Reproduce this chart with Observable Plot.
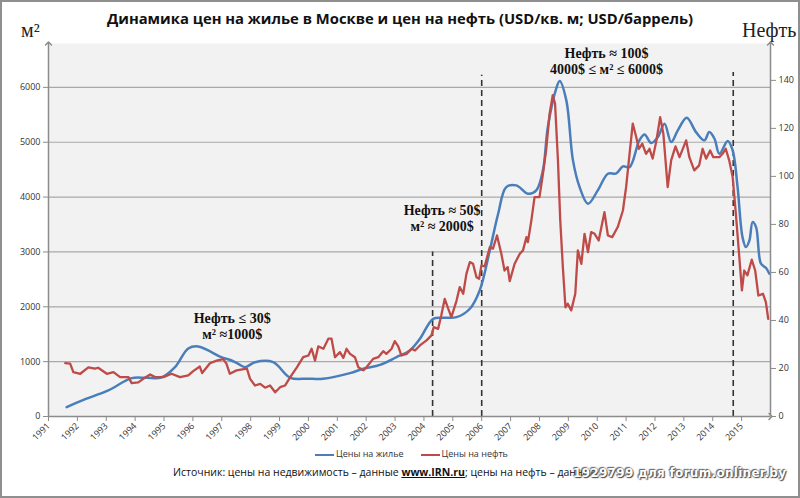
<!DOCTYPE html>
<html>
<head>
<meta charset="utf-8">
<script src="https://cdn.jsdelivr.net/npm/d3@7"></script>
<script src="https://cdn.jsdelivr.net/npm/@observablehq/plot@0.6"></script>
<style>
  html, body { margin: 0; padding: 0; background: #fff; }
  #wrap { position: relative; width: 800px; height: 498px; overflow: hidden; background: #fff; }
  #frame { position: absolute; left: 0; top: 0; width: 800px; height: 498px; box-sizing: border-box; border: 2px solid #8f8f8f; pointer-events: none; }
  #title { position: absolute; left: 0; top: 0; width: 800px; height: 36px; line-height: 36px; text-align: center;
           font-family: "Open Sans", sans-serif; font-weight: 700; font-size: 14.8px; color: #111; white-space: nowrap; }
  .axt { position: absolute; font-family: "Liberation Serif", serif; font-size: 20px; line-height: 24px; color: #222; white-space: nowrap; }
  #chart { position: absolute; left: 0; top: 40px; }
  #legend { position: absolute; left: 315px; top: 447px; height: 14px; line-height: 14px; font-family: "Open Sans", sans-serif; font-size: 9px; color: #333; white-space: nowrap; }
  #legend .sw { display: inline-block; width: 19px; height: 0; border-top: 2.5px solid; vertical-align: middle; margin-right: 2px; }
  #legend .it { display: inline-block; margin-right: 17px; }
  #source { position: absolute; left: 173px; top: 464px; line-height: 17px; font-family: "Open Sans", sans-serif; font-size: 10.5px; color: #111; white-space: nowrap; }
  #source b { text-decoration: underline; }
  #wm { position: absolute; left: 573px; top: 463px; line-height: 20px; font-family: "DejaVu Sans", sans-serif; font-weight: 700; font-size: 12px; color: #fff; white-space: nowrap;
        text-shadow: 0 0 2px #555, 1px 1px 1px #444, -1px -1px 1px #666; letter-spacing: 0.3px; }
</style>
</head>
<body>
<div id="wrap">
  <div id="title">Динамика цен на жилье в Москве и цен на нефть (USD/кв. м; USD/баррель)</div>
  <div class="axt" style="left:21px; top:18px;">м²</div>
  <div class="axt" style="left:742px; top:18px;">Нефть</div>
  <div id="chart"></div>
  <div id="legend"><span class="it"><span class="sw" style="border-color:#4a7ebb"></span>Цены на жилье</span><span class="it"><span class="sw" style="border-color:#be4b48"></span>Цены на нефть</span></div>
  <div id="source">Источник: цены на недвижимость – данные <b>www.IRN.ru</b>; цены на нефть – данные</div>
  <div id="wm">1929799 для forum.onliner.by</div>
  <div id="frame"></div>
</div>
<script>
// ---- Data ----
const xTickYears = [1991,1992,1993,1994,1995,1996,1997,1998,1999,2000,2001,2002,2003,2004,2005,2006,2007,2008,2009,2010,2011,2012,2013,2014,2015];
const leftTicks = [0,1000,2000,3000,4000,5000,6000];
const oilTicks = [0,20,40,60,80,100,120,140];

// Housing price, USD per sq. m (blue)
const houseYears = [1991.63,1992.15,1993.07,1993.88,1994.4,1994.9,1995.38,1995.84,1996.18,1996.53,1996.98,1997.3,1997.57,1997.81,1998.15,1998.78,1999.37,2000.0,2000.5,2001.44,2001.9,2002.48,2003.05,2003.51,2003.86,2004.32,2004.7,2005.13,2005.59,2005.93,2006.28,2006.57,2006.85,2007.2,2007.6,2007.89,2008.12,2008.29,2008.58,2008.7,2008.93,2009.16,2009.39,2009.68,2010.02,2010.37,2010.66,2010.89,2011.12,2011.46,2011.64,2011.87,2012.1,2012.33,2012.56,2012.79,2013.1,2013.42,2013.71,2013.88,2014.06,2014.23,2014.52,2014.69,2014.86,2015.03,2015.15,2015.27,2015.38,2015.5,2015.67,2015.84,2015.96];
const houseValues = [170,290,475,700,705,710,900,1240,1277,1204,1082,1030,960,900,990,990,705,690,687,790,870,942,1082,1204,1417,1781,1800,1811,1964,2298,3028,3697,4182,4213,4062,4122,4487,5276,5977,6115,5763,4669,4182,3879,4122,4426,4432,4560,4547,5034,5143,4985,5094,5338,5003,5216,5447,5185,5034,5185,5064,4791,5022,4851,4182,3270,3088,3210,3544,3453,2785,2712,2603];

// Oil price, USD per barrel (red)
const oilYears = [1991.58,1991.75,1991.86,1992.1,1992.38,1992.61,1992.72,1993.02,1993.25,1993.48,1993.77,1993.88,1994.11,1994.28,1994.52,1994.69,1994.98,1995.26,1995.55,1995.84,1996.01,1996.24,1996.32,1996.59,1996.82,1997.05,1997.16,1997.28,1997.51,1997.87,1997.98,1998.15,1998.33,1998.5,1998.67,1998.85,1999.02,1999.19,1999.37,1999.6,1999.82,2000.0,2000.11,2000.23,2000.34,2000.52,2000.69,2000.8,2000.92,2001.09,2001.21,2001.32,2001.44,2001.61,2001.73,2001.9,2002.01,2002.24,2002.42,2002.59,2002.7,2002.88,2002.99,2003.11,2003.22,2003.4,2003.57,2003.69,2003.86,2004.09,2004.26,2004.34,2004.49,2004.6,2004.72,2004.84,2004.95,2005.13,2005.24,2005.36,2005.47,2005.59,2005.7,2005.82,2005.91,2005.99,2006.1,2006.28,2006.39,2006.53,2006.68,2006.79,2006.9,2006.97,2007.14,2007.32,2007.43,2007.55,2007.6,2007.72,2007.83,2008.0,2008.12,2008.23,2008.35,2008.46,2008.54,2008.64,2008.72,2008.81,2008.9,2008.98,2009.1,2009.24,2009.33,2009.45,2009.56,2009.68,2009.79,2009.91,2010.05,2010.25,2010.37,2010.52,2010.71,2010.89,2011.0,2011.12,2011.23,2011.35,2011.44,2011.56,2011.69,2011.81,2011.92,2012.04,2012.18,2012.29,2012.44,2012.56,2012.71,2012.85,2013.08,2013.19,2013.36,2013.53,2013.65,2013.77,2013.91,2014.02,2014.23,2014.34,2014.45,2014.57,2014.69,2014.8,2014.92,2015.01,2015.09,2015.2,2015.35,2015.47,2015.58,2015.74,2015.84,2015.92];
const oilValues = [22.2,22.0,18.5,17.8,20.5,19.9,20.3,17.8,18.5,16.4,16.4,13.9,14.2,15.7,17.5,16.4,16.4,17.8,16.4,17.1,18.9,20.8,18.1,22.2,23.3,23.9,22.0,17.8,19.2,19.9,15.7,12.9,13.6,12.0,12.9,10.1,12.2,12.9,16.4,20.5,24.7,25.4,28.2,23.3,29.2,28.2,32.4,32.4,24.7,26.8,24.4,28.2,26.1,24.7,20.5,19.2,20.5,24.0,24.7,27.2,26.1,28.2,31.4,29.2,25.4,26.1,28.2,27.5,29.6,31.7,33.8,37.2,36.5,42.1,49.0,44.9,41.4,48.3,53.9,51.1,59.4,64.3,63.6,58.0,57.4,62.9,62.5,70.5,69.9,75.4,67.8,60.8,62.2,56.4,63.6,67.8,69.2,74.7,72.6,81.7,91.4,91.4,101,110.8,126,133.8,130.3,106.7,81.7,62.2,45.5,47.0,44.2,51.1,69.2,63.6,76.1,68.5,76.8,76.1,73.3,85.1,75.4,74.7,78.9,85.8,95.5,109.4,122,116.4,111.5,113.6,109.4,111.5,107.4,114.3,124.7,117.8,95.5,106.7,112.5,108.0,115.0,108,102.5,104.6,111.5,107.4,110.8,108,108,109.4,111.5,106.7,99.7,84.5,66.4,52.5,60.8,58.8,65.3,60.8,50.4,51.1,47.6,40.7];

// Dashed period markers (year, top in USD/m²)
const dashYears = [2004.3, 2006.0, 2014.71];
const dashTops = [3000, 6220, 6270];

// Annotations
const noteTexts = ["Нефть ≤ 30$\nм² ≈1000$", "Нефть ≈ 50$\nм² ≈ 2000$", "Нефть ≈ 100$\n4000$ ≤ м² ≤ 6000$"];
const noteYears = [1997.36, 2004.63, 2010.32];
const noteValues = [1660, 3629, 6484];

// ---- Build ----
const xDomain = [1991, 2016];
const yDomain = [0, 6800];
const oilToLeft = 6128 / 140; // right axis 140 $/bbl aligns with ≈6128 on the left axis

const house = houseYears.map((y, i) => ({year: y, value: houseValues[i]}));
const oil = oilYears.map((y, i) => ({year: y, value: oilValues[i]}));
const notes = noteTexts.map((t, i) => ({text: t, year: noteYears[i], value: noteValues[i]}));
const dashes = dashYears.map((y, i) => ({year: y, top: dashTops[i]}));
const axisLines = [
  {x1: xDomain[0], y1: 0, x2: xDomain[0], y2: yDomain[1]},
  {x1: xDomain[0], y1: 0, x2: xDomain[1], y2: 0},
  {x1: xDomain[1], y1: 0, x2: xDomain[1], y2: yDomain[1]}
];

const axisColor = "#8c8c8c";
const chart = Plot.plot({
  width: 800,
  height: 400,
  marginLeft: 48,
  marginRight: 30,
  marginTop: 3,
  marginBottom: 24,
  x: {domain: xDomain},
  y: {domain: yDomain},
  style: {fontFamily: "'Open Sans', sans-serif", fontSize: "9px", color: "#333", background: "transparent", overflow: "visible"},
  marks: [
    Plot.frame({fill: "#f2f2f2", stroke: "none"}),
    Plot.gridY(leftTicks.filter(d => d > 0), {stroke: "#a9a9a9", strokeOpacity: 1, strokeWidth: 1.2}),
    Plot.ruleX(dashes, {x: "year", y1: 0, y2: "top", stroke: "#333", strokeWidth: 1.6, strokeDasharray: "6,4"}),
    Plot.line(house, {x: "year", y: "value", stroke: "#4a7ebb", strokeWidth: 2.5, curve: "catmull-rom"}),
    Plot.line(oil, {x: "year", y: d => d.value * oilToLeft, stroke: "#be4b48", strokeWidth: 2.3}),
    Plot.link(axisLines, {x1: "x1", y1: "y1", x2: "x2", y2: "y2", stroke: axisColor, strokeWidth: 1.5, markerEnd: "arrow"}),
    Plot.axisX(xTickYears, {tickRotate: -45, tickSize: 5, tickPadding: 3, tickFormat: d => String(d), stroke: axisColor, label: null, fill: "#333"}),
    Plot.axisY(leftTicks, {anchor: "left", tickSize: 5, tickPadding: 3, tickFormat: d => String(d), stroke: axisColor, label: null, fill: "#333"}),
    Plot.axisY(oilTicks.map(v => v * oilToLeft), {anchor: "right", tickSize: 5, tickPadding: 3, stroke: axisColor, label: null, fill: "#333",
      tickFormat: d => String(Math.round(d / oilToLeft))}),
    Plot.text(notes, {x: "year", y: "value", text: "text", fontFamily: "'Liberation Serif', serif", fontWeight: "bold", fontSize: 14, lineHeight: 1.15, fill: "#111"})
  ]
});
document.getElementById("chart").appendChild(chart);
</script>
</body>
</html>
